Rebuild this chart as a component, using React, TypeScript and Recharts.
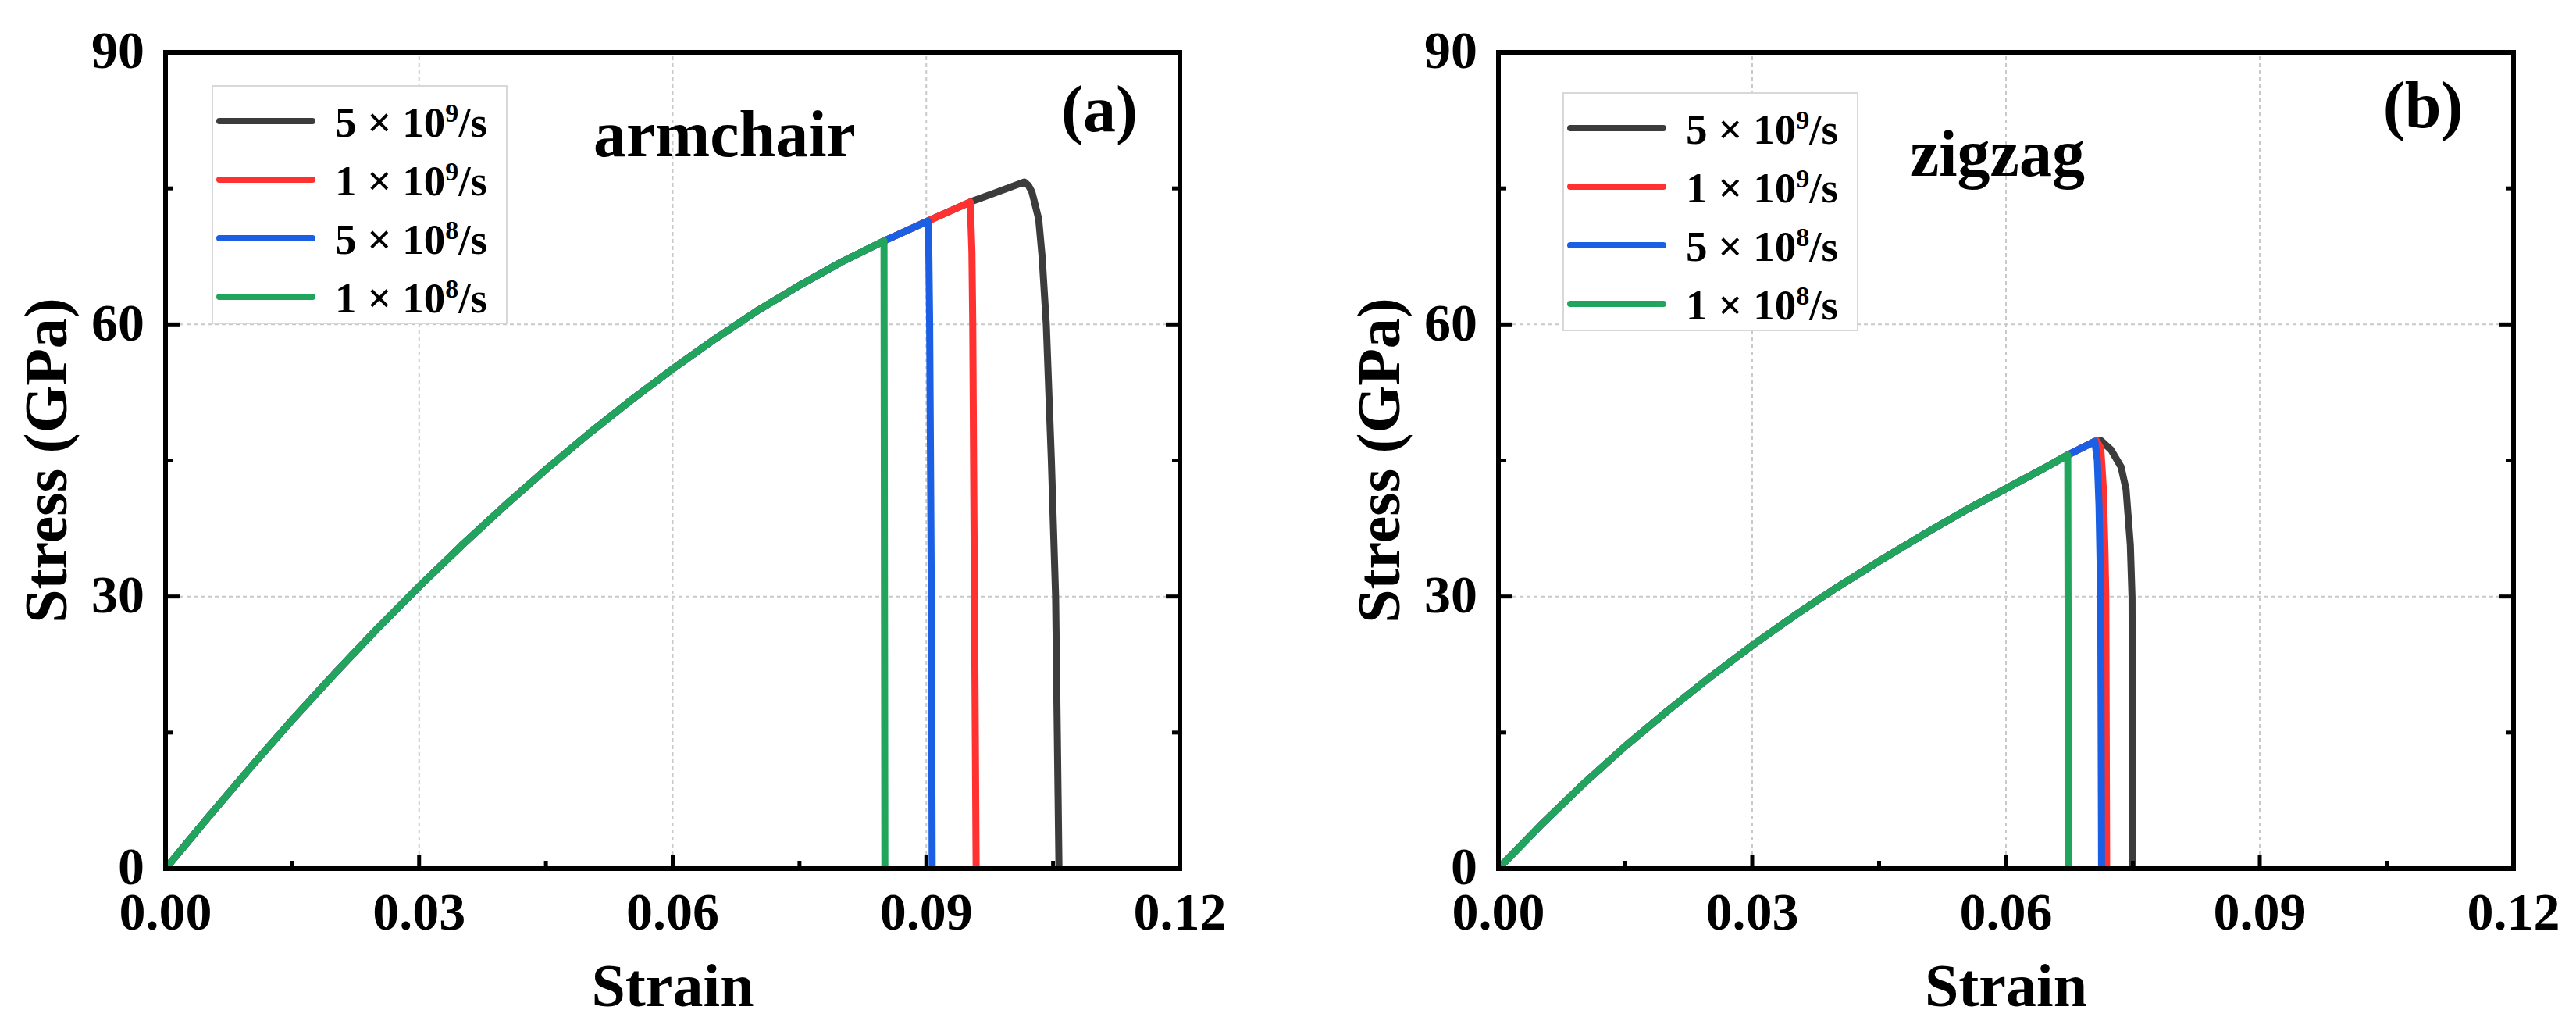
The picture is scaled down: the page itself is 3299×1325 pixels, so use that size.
import React from 'react';
import { LineChart, Line, XAxis, YAxis, ReferenceLine, Legend, Label } from 'recharts';

const FONT = '"Liberation Serif", "Times New Roman", Times, serif';

// axis ticks
const strainTicks = [0, 0.015, 0.03, 0.045, 0.06, 0.075, 0.09, 0.105, 0.12];
const strainMajor = [0, 0.03, 0.06, 0.09, 0.12];
const stressTicks = [0, 15, 30, 45, 60, 75, 90];
const stressMajor = [0, 30, 60, 90];
const strainGrid = [0.03, 0.06, 0.09];
const stressGrid = [30, 60];

// strain rates, legend order
const rateNames = ['5 × 10⁹/s', '1 × 10⁹/s', '5 × 10⁸/s', '1 × 10⁸/s'];
const rateMantissa = [5, 1, 5, 1];
const rateExponent = [9, 9, 8, 8];
const rateColors = ['#3c3c3c', '#ff3131', '#1a5fe4', '#21a45b'];

// (a) armchair: shared loading curve
const acLoadStrain = [0, 0.005, 0.01, 0.015, 0.02, 0.025, 0.03, 0.035, 0.04, 0.045, 0.05, 0.055, 0.06, 0.065, 0.07, 0.075, 0.08, 0.085];
const acLoadStress = [0, 5.6, 11.1, 16.4, 21.5, 26.4, 31.1, 35.6, 39.9, 44.0, 47.9, 51.6, 55.1, 58.4, 61.5, 64.3, 66.9, 69.2];
// (a) armchair: end of each curve
const ac5e9Strain = [0.0902, 0.0952, 0.1016, 0.1021, 0.1025, 0.1028, 0.1033, 0.1037, 0.104, 0.1042, 0.1048, 0.1053, 0.1055, 0.1057];
const ac5e9Stress = [71.4, 73.5, 75.7, 75.3, 74.6, 73.5, 71.6, 67.5, 63.0, 60, 45, 30, 15, 0];
const ac1e9Strain = [0.0902, 0.0952, 0.0954, 0.0955, 0.0957, 0.0959];
const ac1e9Stress = [71.4, 73.5, 68, 60, 30, 0];
const ac5e8Strain = [0.0902, 0.0903, 0.0904, 0.0906, 0.0907];
const ac5e8Stress = [71.4, 68, 60, 30, 0];
const ac1e8Strain = [0.0851];
const ac1e8Stress = [0];

// (b) zigzag: shared loading curve
const zzLoadStrain = [0, 0.005, 0.01, 0.015, 0.02, 0.025, 0.03, 0.035, 0.04, 0.045, 0.05, 0.055, 0.06, 0.065, 0.0673];
const zzLoadStress = [0, 4.8, 9.3, 13.5, 17.4, 21.1, 24.6, 27.9, 31.0, 33.9, 36.7, 39.4, 41.9, 44.4, 45.6];
// (b) zigzag: end of each curve
const zz5e9Strain = [0.0705, 0.0712, 0.0724, 0.0736, 0.0742, 0.0747, 0.0749, 0.075];
const zz5e9Stress = [47.1, 47.2, 46.2, 44.3, 41.8, 35.7, 29.9, 0];
const zz1e9Strain = [0.0707, 0.0712, 0.0715, 0.0717, 0.0718, 0.0719];
const zz1e9Stress = [47.2, 46.4, 42, 35, 30, 0];
const zz5e8Strain = [0.0705, 0.0708, 0.071, 0.0712, 0.0713];
const zz5e8Stress = [47.1, 45, 40, 30, 0];
const zz1e8Strain = [0.0674];
const zz1e8Stress = [0];

const toPoints = (ls: number[], lt: number[], ts: number[], tt: number[]) => {
  const ys = [...lt, ...tt];
  return [...ls, ...ts].map((x, i) => ({ strain: x, stress: ys[i] }));
};

const isMajor = (v: number, list: number[]) => list.some((m) => Math.abs(m - v) < 1e-9);

const labelText = { fontFamily: FONT, fontWeight: 'bold', fill: '#000' } as const;

const BottomTick = (props: any) => {
  const { x, y, payload } = props;
  const major = isMajor(payload.value, strainMajor);
  return (
    <g>
      <line x1={x} y1={y} x2={x} y2={y - (major ? 18 : 10)} stroke="#000" strokeWidth={5} />
      {major && (
        <text x={x} y={y + 78} textAnchor="middle" fontSize={68} {...labelText}>
          {payload.value.toFixed(2)}
        </text>
      )}
    </g>
  );
};

const TopTick = (props: any) => {
  const { x, y, payload } = props;
  const major = isMajor(payload.value, strainMajor);
  return <line x1={x} y1={y} x2={x} y2={y + (major ? 18 : 10)} stroke="#000" strokeWidth={5} />;
};

const LeftTick = (props: any) => {
  const { x, y, payload } = props;
  const major = isMajor(payload.value, stressMajor);
  return (
    <g>
      <line x1={x} y1={y} x2={x + (major ? 18 : 10)} y2={y} stroke="#000" strokeWidth={5} />
      {major && (
        <text x={x - 27} y={y} dy="0.3em" textAnchor="end" fontSize={68} {...labelText}>
          {payload.value}
        </text>
      )}
    </g>
  );
};

const RightTick = (props: any) => {
  const { x, y, payload } = props;
  const major = isMajor(payload.value, stressMajor);
  return <line x1={x} y1={y} x2={x - (major ? 18 : 10)} y2={y} stroke="#000" strokeWidth={5} />;
};

const LegendBox = ({ payload }: any) => {
  const rows = [...(payload || [])].sort(
    (a: any, b: any) => rateNames.indexOf(a.value) - rateNames.indexOf(b.value),
  );
  return (
    <svg width={379} height={306} style={{ display: 'block' }}>
      <rect x={1} y={1} width={377} height={304} fill="#fff" stroke="#d8d8d8" strokeWidth={2} />
      {rows.map((p: any) => {
        const i = rateNames.indexOf(p.value);
        const cy = 46 + i * 75;
        return (
          <g key={p.value}>
            <line x1={10} x2={129} y1={cy} y2={cy} stroke={p.color} strokeWidth={8} strokeLinecap="round" />
            <text x={158} y={cy + 20} fontSize={55} {...labelText}>
              {`${rateMantissa[i]} × 10`}
              <tspan dy={-19} fontSize={34}>{rateExponent[i]}</tspan>
              <tspan dy={19}>/s</tspan>
            </text>
          </g>
        );
      })}
    </svg>
  );
};

const frame = { stroke: '#000', strokeWidth: 6, strokeLinecap: 'square' as const };

type PanelProps = {
  left: number;
  width: number;
  plotLeft: number;
  plotRight: number;
  series: { strain: number; stress: number }[][];
  legendLeft: number;
  legendTop: number;
};

// axes are 1px thick boxes, so margins are set 1px short of the plot edges
const Panel = ({ left, width, plotLeft, plotRight, series, legendLeft, legendTop }: PanelProps) => (
  <div style={{ position: 'absolute', left, top: 0 }}>
    <LineChart
      width={width}
      height={1325}
      margin={{ top: 66, bottom: 212, left: plotLeft - 1, right: width - plotRight - 1 }}
    >
      <XAxis
        xAxisId="b"
        dataKey="strain"
        type="number"
        domain={[0, 0.12]}
        ticks={strainTicks}
        interval={0}
        height={1}
        tickSize={0}
        tickMargin={0}
        tickLine={false}
        axisLine={frame}
        tick={<BottomTick />}
        allowDataOverflow
      >
        <Label
          content={(p: any) => {
            const vb = p.viewBox;
            return (
              <text x={vb.x + vb.width / 2} y={vb.y + 176} textAnchor="middle" fontSize={78} {...labelText}>
                Strain
              </text>
            );
          }}
        />
      </XAxis>
      <XAxis
        xAxisId="t"
        orientation="top"
        type="number"
        domain={[0, 0.12]}
        ticks={strainTicks}
        interval={0}
        height={1}
        tickSize={0}
        tickMargin={0}
        tickLine={false}
        axisLine={frame}
        tick={<TopTick />}
        allowDataOverflow
      />
      <YAxis
        yAxisId="l"
        type="number"
        domain={[0, 90]}
        ticks={stressTicks}
        interval={0}
        width={1}
        tickSize={0}
        tickMargin={0}
        tickLine={false}
        axisLine={frame}
        tick={<LeftTick />}
        allowDataOverflow
      >
        <Label
          content={(p: any) => {
            const vb = p.viewBox;
            const cx = vb.x + vb.width - 127;
            const cy = vb.y + vb.height / 2;
            return (
              <text
                x={cx}
                y={cy}
                transform={`rotate(-90 ${cx} ${cy})`}
                textAnchor="middle"
                fontSize={78}
                {...labelText}
              >
                Stress (GPa)
              </text>
            );
          }}
        />
      </YAxis>
      <YAxis
        yAxisId="r"
        orientation="right"
        type="number"
        domain={[0, 90]}
        ticks={stressTicks}
        interval={0}
        width={1}
        tickSize={0}
        tickMargin={0}
        tickLine={false}
        axisLine={frame}
        tick={<RightTick />}
        allowDataOverflow
      />
      {strainGrid.map((v) => (
        <ReferenceLine key={`gx${v}`} xAxisId="b" yAxisId="l" x={v} stroke="#c9c9c9" strokeWidth={2} strokeDasharray="5 4" />
      ))}
      {stressGrid.map((v) => (
        <ReferenceLine key={`gy${v}`} xAxisId="b" yAxisId="l" y={v} stroke="#c9c9c9" strokeWidth={2} strokeDasharray="5 4" />
      ))}
      {series.map((pts, i) => (
        <Line
          key={rateNames[i]}
          xAxisId="b"
          yAxisId="l"
          data={pts}
          dataKey="stress"
          name={rateNames[i]}
          type="linear"
          stroke={rateColors[i]}
          strokeWidth={9}
          strokeLinejoin="round"
          dot={false}
          activeDot={false}
          isAnimationActive={false}
        />
      ))}
      <Legend
        layout="vertical"
        align="center"
        verticalAlign="middle"
        content={<LegendBox />}
        wrapperStyle={{ left: legendLeft, top: legendTop, width: 379, height: 306 }}
      />
    </LineChart>
  </div>
);

const armchairSeries = [
  toPoints(acLoadStrain, acLoadStress, ac5e9Strain, ac5e9Stress),
  toPoints(acLoadStrain, acLoadStress, ac1e9Strain, ac1e9Stress),
  toPoints(acLoadStrain, acLoadStress, ac5e8Strain, ac5e8Stress),
  toPoints(acLoadStrain, acLoadStress, ac1e8Strain, ac1e8Stress),
];

const zigzagSeries = [
  toPoints(zzLoadStrain, zzLoadStress, zz5e9Strain, zz5e9Stress),
  toPoints(zzLoadStrain, zzLoadStress, zz1e9Strain, zz1e9Stress),
  toPoints(zzLoadStrain, zzLoadStress, zz5e8Strain, zz5e8Stress),
  toPoints(zzLoadStrain, zzLoadStress, zz1e8Strain, zz1e8Stress),
];

export default function App() {
  return (
    <div style={{ position: 'absolute', left: 0, top: 0, width: 3299, height: 1325, background: '#fff', overflow: 'hidden' }}>
      <Panel left={0} width={1650} plotLeft={212} plotRight={1511} series={armchairSeries} legendLeft={271} legendTop={109} />
      <Panel left={1650} width={1649} plotLeft={269} plotRight={1569} series={zigzagSeries} legendLeft={351} legendTop={118} />
      <svg width={3299} height={1325} style={{ position: 'absolute', left: 0, top: 0, pointerEvents: 'none' }}>
        <text x={760} y={200} fontSize={84} {...labelText}>armchair</text>
        <text x={1408} y={168} textAnchor="middle" fontSize={84} {...labelText}>(a)</text>
        <text x={2446} y={225} fontSize={84} {...labelText}>zigzag</text>
        <text x={3103} y={163} textAnchor="middle" fontSize={84} {...labelText}>(b)</text>
      </svg>
    </div>
  );
}
